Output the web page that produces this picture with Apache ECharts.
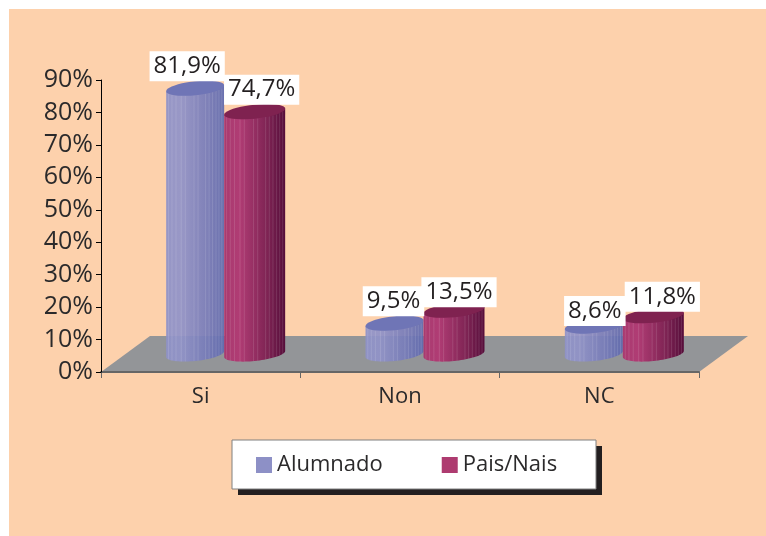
<!DOCTYPE html>
<html>
<head>
<meta charset="utf-8">
<title>Si / Non / NC</title>
<script src="https://cdn.jsdelivr.net/npm/echarts@6/dist/echarts.min.js"></script>
<style>
  html, body { margin: 0; padding: 0; background: #fff; }
  #chart { width: 766px; height: 536px; }
</style>
</head>
<body>
<div id="chart"></div>
<script>
const categories = ["Si", "Non", "NC"];
const alumnado = [81.9, 9.5, 8.6];
const paisNais = [74.7, 13.5, 11.8];
const labelAlumnado = ["81,9%", "9,5%", "8,6%"];
const labelPais = ["74,7%", "13,5%", "11,8%"];

// aspecto do "3D" en pixeles
const floorDx = 49;
const floorDy = 36;
const centroDx = 23.5;
const elipseB = 7;
const inclinacion = 0.1;
const raias = [0.04, 0.1, 0.17, 0.26, 0.33, 0.48, 0.55, 0.68, 0.74, 0.8, 0.86, 0.91, 0.96];

const textColor = "#2b2a2b";
const fontFamily = '"Open Sans", sans-serif';

const container = document.querySelector("#chart");
const miGrafico = echarts.init(container);

function renderFloor(params, api) {
  const sys = params.coordSys;
  const y0 = api.coord([0, 0])[1];
  const x0 = sys.x;
  const x1 = sys.x + sys.width;
  return {
    type: "polygon",
    shape: {
      points: [[x0, y0], [x1, y0], [x1 + floorDx, y0 - floorDy], [x0 + floorDx, y0 - floorDy]],
    },
    style: { fill: "#939598" },
  };
}

// elipse cizallada, que conserva os bordos verticais do cilindro
function puntosElipse(cx, cy, r, desde, ata) {
  const pts = [];
  for (let i = 0; i <= 40; i++) {
    const t = desde + ((ata - desde) * i) / 40;
    const dx = r * Math.cos(t);
    pts.push([cx + dx, cy + elipseB * Math.sin(t) - inclinacion * dx]);
  }
  return pts;
}

function cylinderRender(desprazamento, r, cores) {
  return function (params, api) {
    const pos = api.coord([api.value(0), api.value(1)]);
    const y0 = api.coord([api.value(0), 0])[1];
    const cx = pos[0] + centroDx + desprazamento;
    const topY = pos[1] - floorDy / 2;
    const baseY = y0 - floorDy / 2;

    // laterais e fronte inferior; a tapa vai por riba
    const corpo = [[cx + r, topY - inclinacion * r]]
      .concat(puntosElipse(cx, baseY, r, 0, Math.PI))
      .concat([[cx - r, topY + inclinacion * r]]);

    const children = [
      {
        type: "polygon",
        shape: { points: corpo },
        style: {
          opacity: cores.opacity,
          fill: {
            type: "linear", x: 0, y: 0, x2: 1, y2: 0,
            colorStops: [
              { offset: 0, color: cores.left },
              { offset: 0.25, color: cores.l2 },
              { offset: 0.7, color: cores.mid },
              { offset: 1, color: cores.right },
            ],
          },
        },
      },
    ];
    raias.forEach((f) => {
      const x = cx - r + 2 * r * f;
      const dx = x - cx;
      const arco = elipseB * Math.sqrt(Math.max(0, 1 - (dx * dx) / (r * r)));
      children.push({
        type: "line",
        shape: {
          x1: x, y1: topY + arco - inclinacion * dx,
          x2: x, y2: baseY + arco - inclinacion * dx,
        },
        style: { stroke: "rgba(255,255,255,0.12)", lineWidth: 1 },
      });
    });
    children.push({
      type: "polygon",
      shape: { points: puntosElipse(cx, topY, r, 0, 2 * Math.PI) },
      style: { fill: cores.top },
    });
    return { type: "group", children };
  };
}

function labelRender(desprazamento, textos, dxs, dys) {
  return function (params, api) {
    const i = params.dataIndex;
    const pos = api.coord([api.value(0), api.value(1)]);
    return {
      type: "text",
      style: {
        text: textos[i],
        x: pos[0] + centroDx + desprazamento + dxs[i],
        y: pos[1] - floorDy / 2 + dys[i],
        align: "center",
        verticalAlign: "middle",
        fill: "#231f20",
        font: "24px " + fontFamily,
        backgroundColor: "#fff",
        padding: [3, 4, 3, 4],
      },
    };
  };
}

const option = {
  backgroundColor: "#ffffff",
  animation: false,
  textStyle: { fontFamily },
  graphic: [
    { type: "rect", z: -10, shape: { x: 9, y: 9, width: 757, height: 527 }, style: { fill: "#fdd1ac" } },
    { type: "rect", z: 1, shape: { x: 238, y: 446, width: 364, height: 49 }, style: { fill: "#231f20" } },
    { type: "rect", z: 2, shape: { x: 232, y: 440, width: 364, height: 49 }, style: { fill: "#fff", stroke: "#808080", lineWidth: 1 } },
  ],
  grid: { left: 101, top: 80, right: 67, bottom: 164 },
  legend: {
    left: 256,
    top: 454,
    z: 10,
    padding: 0,
    itemWidth: 16,
    itemHeight: 16,
    itemGap: 59,
    icon: "rect",
    data: ["Alumnado", "Pais/Nais"],
    textStyle: { fontSize: 22, color: textColor, fontFamily },
  },
  xAxis: {
    type: "category",
    data: categories,
    z: 3,
    axisLine: { lineStyle: { color: "#666", width: 2 } },
    axisTick: { show: true, length: 6, lineStyle: { color: "#666", width: 1 } },
    axisLabel: { fontSize: 22, color: textColor, margin: 14 },
  },
  yAxis: {
    type: "value",
    min: 0,
    max: 90,
    interval: 10,
    z: 4,
    splitLine: { show: false },
    axisLine: { show: true, lineStyle: { color: "#000", width: 1 } },
    axisTick: { show: true, length: 5, lineStyle: { color: "#000", width: 1 } },
    axisLabel: { formatter: "{value}%", fontSize: 25, color: textColor, margin: 8 },
  },
  series: [
    {
      type: "custom",
      name: "chan",
      z: 1,
      silent: true,
      renderItem: renderFloor,
      data: [[0, 0]],
      encode: { x: 0, y: 1 },
    },
    {
      type: "custom",
      name: "Alumnado",
      z: 2,
      itemStyle: { color: "#8d90c6" },
      renderItem: cylinderRender(-29, 29, { left: "#8f92c8", l2: "#9193c8", mid: "#767bb9", right: "#5f69ae", top: "#6f75b6", opacity: 0.93 }),
      data: alumnado.map((v, i) => [i, v]),
      encode: { x: 0, y: 1 },
    },
    {
      type: "custom",
      name: "Pais/Nais",
      z: 3,
      itemStyle: { color: "#ae3b70" },
      renderItem: cylinderRender(30.5, 30.5, { left: "#a93a70", l2: "#b03c74", mid: "#7f2454", right: "#560d3a", top: "#7f2250", opacity: 1 }),
      data: paisNais.map((v, i) => [i, v]),
      encode: { x: 0, y: 1 },
    },
    {
      type: "custom",
      name: "etiquetasA",
      z: 5,
      silent: true,
      renderItem: labelRender(-29, labelAlumnado, [-8, -1, 1], [-22, -22, -15]),
      data: alumnado.map((v, i) => [i, v]),
      encode: { x: 0, y: 1 },
    },
    {
      type: "custom",
      name: "etiquetasP",
      z: 6,
      silent: true,
      renderItem: labelRender(30.5, labelPais, [7, 5, 9], [-22, -18, -19]),
      data: paisNais.map((v, i) => [i, v]),
      encode: { x: 0, y: 1 },
    },
  ],
};

miGrafico.setOption(option);
</script>
</body>
</html>
